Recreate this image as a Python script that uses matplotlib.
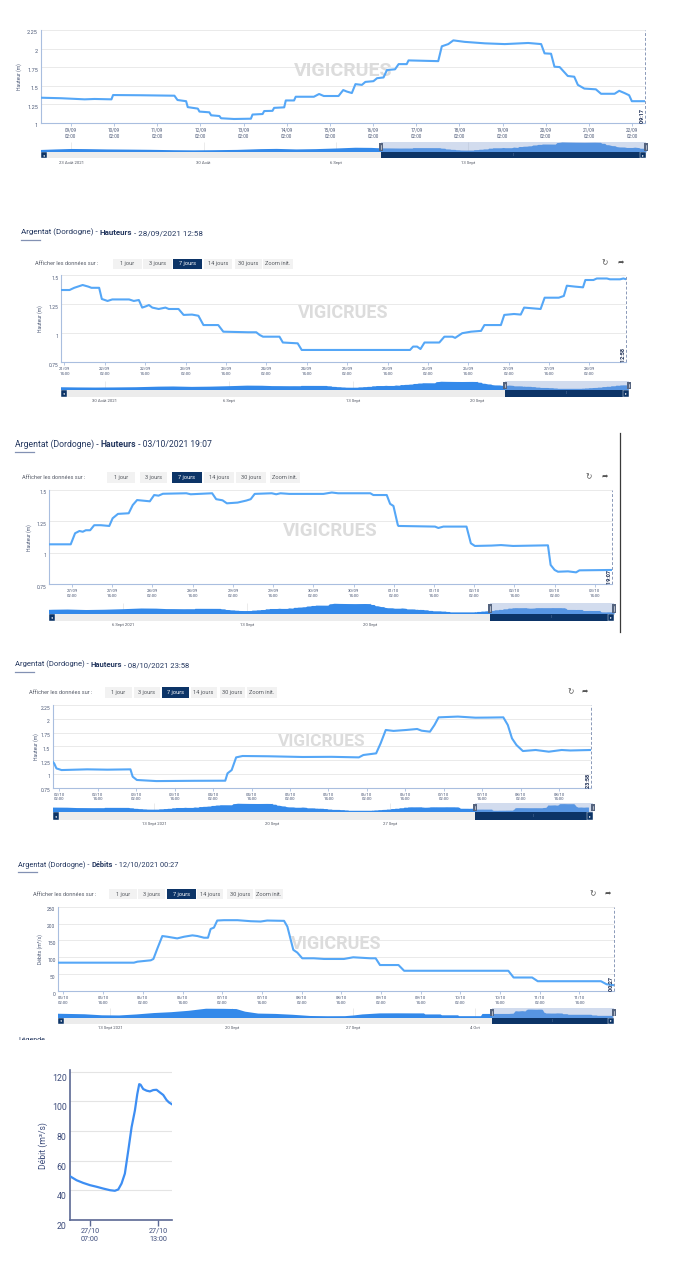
import numpy as np
import pandas as pd
import matplotlib
matplotlib.use('Agg')
import matplotlib.pyplot as plt
import matplotlib.dates as mdates
from matplotlib.patches import Rectangle
from matplotlib.transforms import ScaledTranslation

plt.rcParams['font.family'] = ['Roboto', 'DejaVu Sans']

# ---------------- data ----------------
station = 'Argentat (Dordogne)'
buttons = ['1 jour', '3 jours', '7 jours', '14 jours', '30 jours', 'Zoom init.']
selected_button = 2
range_label = 'Afficher les données sur :'

# hauteurs before panel 1 (hours from 09/09/2021 02:00), only seen in the navigators
hp_t = [-452, -430, -410, -390, -365, -340, -310, -280, -255, -230, -200, -170, -150,
        -125, -100, -75, -50, -30, -17]
hp_v = [1.12, 1.20, 1.26, 1.24, 1.20, 1.18, 1.15, 1.10, 1.08, 1.10, 1.14, 1.24, 1.27,
        1.20, 1.24, 1.32, 1.42, 1.40, 1.34]

# panel 1: hauteurs, 14 days ending 22/09/2021 09:17 (hours from 09/09 02:00)
h1_ref = '2021-09-09 02:00'
h1_end = '2021-09-22 09:17'
h1_t = [-16.8, -5.3, 7.7, 13.2, 22.6, 23.5, 39.1, 57.6, 59.3, 64.1, 65.0, 70.6, 71.5,
        77.0, 78.0, 82.6, 83.5, 90.7, 100.1, 101.0, 106.6, 107.5, 112.1, 113.0, 118.6,
        119.5, 124.1, 125.0, 135.1, 138.0, 140.6, 148.8, 151.4, 153.4, 156.2, 158.2,
        161.8, 163.7, 168.2, 170.2, 173.8, 175.7, 180.2, 182.2, 186.7, 187.7, 204.2,
        206.2, 209.8, 212.6, 218.9, 230.2, 241.2, 254.2, 261.4, 263.3, 266.9, 268.8,
        271.7, 276.2, 279.8, 281.8, 285.4, 291.8, 294.7, 302.2, 304.8, 307.7, 310.3,
        311.8, 318.7]
h1_v = [1.337, 1.33, 1.315, 1.32, 1.315, 1.373, 1.37, 1.364, 1.306, 1.29, 1.21, 1.19,
        1.15, 1.14, 1.10, 1.09, 1.06, 1.05, 1.054, 1.11, 1.117, 1.157, 1.16, 1.20, 1.207,
        1.30, 1.30, 1.35, 1.35, 1.387, 1.36, 1.36, 1.44, 1.42, 1.40, 1.52, 1.51, 1.55,
        1.56, 1.60, 1.61, 1.71, 1.72, 1.79, 1.79, 1.84, 1.83, 2.03, 2.06, 2.11, 2.09,
        2.07, 2.06, 2.075, 2.06, 1.935, 1.93, 1.755, 1.75, 1.63, 1.62, 1.51, 1.46, 1.45,
        1.39, 1.39, 1.43, 1.40, 1.37, 1.29, 1.29]

# panel 2: hauteurs, 7 days ending 28/09/2021 12:58 (hours from 21/09 14:00)
h2_ref = '2021-09-21 14:00'
h2_end = '2021-09-28 12:58'
h2_t = [-1.1, 1.5, 2.9, 5.4, 7.1, 8.0, 10.3, 11.1, 12.8, 14.2, 19.2, 20.6, 22.1, 23.1,
        24.1, 25.1, 26.1, 28.0, 30.0, 31.0, 33.9, 35.4, 37.9, 39.8, 41.3, 45.7, 47.2,
        54.6, 57.0, 58.0, 59.0, 63.9, 64.9, 69.3, 70.5, 102.7, 103.6, 104.8, 105.8,
        107.0, 111.4, 112.9, 115.3, 116.1, 118.2, 120.8, 123.8, 124.8, 129.7, 130.7,
        133.6, 135.6, 136.6, 141.5, 142.7, 146.9, 148.4, 149.3, 151.8, 154.1, 154.8,
        157.2, 158.2, 161.2, 162.1, 165.1, 166.1, 167.0]
h2_v = [1.371, 1.371, 1.39, 1.414, 1.40, 1.39, 1.39, 1.294, 1.277, 1.29, 1.29, 1.277,
        1.285, 1.22, 1.23, 1.242, 1.22, 1.208, 1.22, 1.208, 1.208, 1.157, 1.16, 1.15,
        1.07, 1.07, 1.013, 1.008, 1.008, 0.985, 0.97, 0.97, 0.92, 0.913, 0.856, 0.856,
        0.885, 0.885, 0.864, 0.92, 0.92, 0.97, 0.97, 0.96, 1.0, 1.013, 1.02, 1.07, 1.07,
        1.157, 1.165, 1.16, 1.22, 1.208, 1.305, 1.305, 1.32, 1.408, 1.40, 1.394, 1.457,
        1.457, 1.47, 1.47, 1.463, 1.463, 1.47, 1.463]

# panel 3: hauteurs, 7 days ending 03/10/2021 19:07 (hours from 27/09 02:00)
h3_ref = '2021-09-27 02:00'
h3_end = '2021-10-03 19:07'
h3_t = [-6.9, -0.4, 0.9, 2.2, 3.2, 4.1, 5.4, 6.6, 8.6, 11.1, 12.1, 13.7, 16.9, 18.1,
        19.4, 23.2, 24.5, 25.8, 27.1, 34.1, 35.4, 41.8, 43.0, 44.9, 46.2, 49.4, 52.0,
        53.3, 54.5, 59.6, 60.9, 62.2, 64.8, 75.0, 77.5, 79.4, 89.0, 89.9, 93.9, 94.9,
        95.9, 97.2, 97.4, 108.3, 109.3, 110.8, 117.7, 119.0, 120.2, 125.2, 128.0, 131.6,
        142.0, 142.8, 144.0, 145.0, 148.0, 150.4, 151.4, 161.1]
h3_v = [1.068, 1.068, 1.156, 1.174, 1.168, 1.18, 1.18, 1.22, 1.22, 1.214, 1.275, 1.31,
        1.315, 1.38, 1.42, 1.41, 1.46, 1.455, 1.47, 1.474, 1.466, 1.474, 1.427, 1.418,
        1.394, 1.40, 1.416, 1.427, 1.469, 1.474, 1.466, 1.474, 1.469, 1.469, 1.48, 1.474,
        1.474, 1.46, 1.46, 1.39, 1.373, 1.222, 1.214, 1.209, 1.198, 1.209, 1.209, 1.076,
        1.055, 1.058, 1.062, 1.055, 1.06, 0.904, 0.864, 0.85, 0.853, 0.845, 0.861, 0.864]

# panel 4: hauteurs, 7 days ending 08/10/2021 23:58 (hours from 02/10 02:00)
h4_ref = '2021-10-02 02:00'
h4_end = '2021-10-08 23:58'
h4_t = [-2.05, -1.6, -0.9, 0.7, 8.7, 15.0, 22.2, 22.9, 24.2, 30.3, 42.0, 51.8, 52.5,
        53.8, 55.2, 57.2, 65.3, 76.0, 85.0, 93.5, 94.9, 98.9, 100.3, 101.9, 104.3, 108.3,
        111.7, 113.1, 115.7, 117.1, 118.4, 124.4, 129.9, 134.0, 138.6, 140.0, 141.3,
        142.7, 144.7, 148.7, 152.8, 156.8, 159.5, 166.0]
h4_v = [1.22, 1.19, 1.10, 1.07, 1.083, 1.077, 1.083, 0.95, 0.89, 0.87, 0.875, 0.877,
        1.01, 1.07, 1.30, 1.325, 1.32, 1.307, 1.31, 1.30, 1.343, 1.373, 1.555, 1.797,
        1.78, 1.797, 1.815, 1.784, 1.766, 1.887, 2.026, 2.04, 2.02, 2.022, 2.026, 1.887,
        1.645, 1.524, 1.415, 1.434, 1.403, 1.434, 1.425, 1.434]

# débits before panel 5 (hours from 05/10/2021 02:00), only seen in the navigator
dp_t = [-603, -566, -542, -518, -494, -470, -446, -422, -398, -374, -356, -344, -326,
        -302, -278, -254, -230, -206, -194, -182, -158, -134, -110, -97, -95, -74, -72,
        -50, -48, -18, -16]
dp_v = [90, 75, 45, 40, 70, 110, 135, 175, 235, 232, 225, 150, 95, 85, 60, 25, 18, 20,
        40, 70, 100, 102, 100, 100, 70, 70, 45, 45, 20, 20, 84]

# panel 5: débits, 7 days ending 12/10/2021 00:27 (hours from 05/10 02:00)
d5_ref = '2021-10-05 02:00'
d5_end = '2021-10-12 00:27'
d5_t = [-1.6, 12.3, 21.3, 22.4, 24.4, 26.4, 27.2, 28.4, 29.9, 31.4, 34.4, 36.5, 39.0,
        40.5, 42.5, 43.7, 44.5, 45.5, 46.5, 48.5, 52.6, 56.6, 59.6, 61.6, 66.7, 67.7,
        69.5, 70.7, 72.2, 75.7, 78.8, 84.8, 87.6, 92.8, 94.4, 95.7, 101.3, 103.0, 134.5,
        136.1, 141.7, 143.4, 162.5, 164.2, 166.5]
d5_v = [84, 84, 84, 87, 89, 91, 95, 126, 163, 161, 156, 161, 165, 163, 158, 158, 184,
        188, 209, 210, 210, 207, 206, 209, 208, 191, 122, 114, 97, 97, 95, 95, 100, 97,
        97, 77, 77, 60, 60, 40, 40, 29, 29, 20, 17]

# panel 6: débit on 27/10 (hours from 27/10/2021 00:00)
d6_ref = '2021-10-27 00:00'
d6_start = '2021-10-27 05:15'
d6_end = '2021-10-27 14:11'
d6_t = [5.25, 5.83, 6.41, 7.0, 7.59, 8.17, 8.76, 9.19, 9.49, 9.78, 10.07, 10.37, 10.66,
        10.95, 11.16, 11.33, 11.45, 11.68, 11.98, 12.27, 12.56, 12.85, 13.15, 13.44,
        13.73, 13.94, 14.17]
d6_v = [49.5, 46.8, 45.0, 43.5, 42.4, 41.2, 40.1, 39.7, 40.6, 44.6, 51.3, 66.9, 82.6,
        93.8, 104.9, 111.6, 111.2, 108.3, 107.2, 106.7, 107.6, 107.8, 106.0, 104.3,
        100.9, 99.3, 98.2]

nav1_dates = ['2021-08-23', '2021-08-30', '2021-09-06', '2021-09-13']
nav1_labels = ['23 Août 2021', '30 Août', '6 Sept', '13 Sept']
nav2_dates = ['2021-08-30', '2021-09-06', '2021-09-13', '2021-09-20']
nav2_labels = ['30 Août 2021', '6 Sept', '13 Sept', '20 Sept']
nav3_dates = ['2021-09-06', '2021-09-13', '2021-09-20']
nav3_labels = ['6 Sept 2021', '13 Sept', '20 Sept']
nav4_dates = ['2021-09-13', '2021-09-20', '2021-09-27']
nav4_labels = ['13 Sept 2021', '20 Sept', '27 Sept']
nav5_dates = ['2021-09-13', '2021-09-20', '2021-09-27', '2021-10-04']
nav5_labels = ['13 Sept 2021', '20 Sept', '27 Sept', '4 Oct']

# ---------------- drawing ----------------
LINE = '#55a7f7'
NAV_FILL = '#3389ea'
NAVY = '#0c3467'
AXIS = '#a9bedf'
GRID = '#e6e6e6'
TXT = '#4b5876'
TITLE = '#24375f'

W, H = 678, 1264
fig = plt.figure(figsize=(W / 100, H / 100), dpi=100)
bg = fig.add_axes([0, 0, 1, 1])
bg.set_xlim(0, W)
bg.set_ylim(H, 0)
bg.axis('off')


def box(x0, y0, x1, y1):
    return [x0 / W, 1 - y1 / H, (x1 - x0) / W, (y1 - y0) / H]


def to_num(ref, hours):
    stamps = pd.Timestamp(ref) + pd.to_timedelta(np.asarray(hours, float), unit='h')
    return mdates.date2num(stamps.to_numpy())


def shift_ylabels(ax, dy):
    off = ScaledTranslation(0, -dy / 100, fig.dpi_scale_trans)
    for lab in ax.get_yticklabels():
        lab.set_transform(lab.get_transform() + off)


def chart(rect, t, v, start, end, ylim, yticks, ylabel, ylabel_x, hours, wm,
          fs_y=3.6, fs_x=3.1):
    x0, y0, x1, y1 = rect
    ax = fig.add_axes(box(*rect))
    ax.plot(t, v, color=LINE, lw=1.5, zorder=3, solid_joinstyle='round')
    ax.set_xlim(start, end)
    ax.set_ylim(*ylim)
    ax.set_yticks(yticks)
    ax.set_yticklabels([f'{y:g}' for y in yticks])
    ax.xaxis.set_major_locator(mdates.HourLocator(byhour=hours))
    ax.xaxis.set_major_formatter(mdates.DateFormatter('%d/%m\n%H:%M'))
    ax.grid(axis='y', color=GRID, lw=0.6)
    ax.set_axisbelow(True)
    for s in ['top', 'right']:
        ax.spines[s].set_visible(False)
    for s in ['left', 'bottom']:
        ax.spines[s].set_color(AXIS)
        ax.spines[s].set_linewidth(0.8)
    ax.tick_params(axis='x', length=2.5, width=0.6, color=AXIS, labelsize=fs_x,
                   labelcolor=TXT, pad=1.2)
    ax.tick_params(axis='y', length=0, labelsize=fs_y, labelcolor=TXT, pad=2)
    ax.set_ylabel(ylabel, fontsize=3.6, color=TXT)
    ax.yaxis.set_label_coords((ylabel_x - x0) / (x1 - x0), 0.5)
    ax.axvline(end, color='#8a99b8', lw=0.7, ls=(0, (3, 2)), clip_on=False)
    ax.text(end, ylim[0], mdates.num2date(end).strftime('%H:%M') + ' ', rotation=90,
            ha='right', va='bottom', fontsize=4, color='#1e2f55', fontweight='bold')
    ax.text(0.5, 0.56, 'VIGICRUES', transform=ax.transAxes, ha='center', va='center',
            fontsize=wm, color='#dcdcdc', fontweight='bold', zorder=1)
    shift_ylabels(ax, 2.5)
    return ax


def navigator(x0, x1, ya, yb, yc, ht, hv, start, end, dates, labels):
    lo_x = end - 32
    ax = fig.add_axes(box(x0, ya, x1, yb))
    m = (ht >= lo_x - 2) & (ht <= end)
    tt, vv = ht[m], hv[m]
    vis = vv[tt >= lo_x]
    span = vis.max() - vis.min()
    bottom = vis.min() - 0.236 * span
    ax.fill_between(tt, vv, bottom, color=NAV_FILL, lw=0, zorder=2)
    ax.set_xlim(lo_x, end)
    ax.set_ylim(bottom, vis.max() + 0.03 * span)
    lab_nums = mdates.datestr2num(dates)
    ax.vlines(lab_nums, 0, 1, transform=ax.get_xaxis_transform(), color='#e3e3e3',
              lw=0.5, zorder=1)
    ax.axvspan(start, end, color='#8fa8d6', alpha=0.4, lw=0, zorder=3)
    dpp = (end - lo_x) / (x1 - x0)
    for s in (start, end):
        ax.add_patch(Rectangle((s - 2 * dpp, 0.12), 4 * dpp, 0.76,
                               transform=ax.get_xaxis_transform(), fc='#55647f',
                               ec='none', zorder=4, clip_on=False))
        ax.plot([s, s], [0.3, 0.7], transform=ax.get_xaxis_transform(), color='white',
                lw=0.4, zorder=5, clip_on=False)
    ax.axis('off')

    sb = fig.add_axes(box(x0, yb, x1, yc))
    sb.set_xlim(lo_x, end)
    sb.set_facecolor('#ececec')
    sb.axvspan(start, end, color=NAVY, lw=0)
    bw = 6 / (x1 - x0)
    for xb, arrow in ((0, '◂'), (1 - bw, '▸')):
        sb.add_patch(Rectangle((xb, 0), bw, 1, transform=sb.transAxes, fc=NAVY,
                               ec='white', lw=0.3))
        sb.text(xb + bw / 2, 0.5, arrow, transform=sb.transAxes, ha='center',
                va='center', fontsize=2.6, color='white', family='DejaVu Sans')
    sb.text((start + end) / 2, 0.5, '|||', transform=sb.get_xaxis_transform(),
            ha='center', va='center', fontsize=2, color='#8da3c6')
    sb.set_xticks(lab_nums)
    sb.set_xticklabels(labels)
    sb.set_yticks([])
    sb.tick_params(axis='x', length=0, labelsize=3.1, labelcolor='#555a66', pad=1.6)
    for s in sb.spines.values():
        s.set_visible(False)


def header(y_title, x_title, width, kind, stamp, y_btn, h_btn, x_label, btn_x, icon_x):
    fs = 5.8 * width / 196
    t = bg.text(x_title, y_title + 2.4, station + ' - ', fontsize=fs, color=TITLE,
                va='baseline')
    t = bg.annotate(kind, xy=(1, 0), xycoords=t, fontsize=fs, color=TITLE,
                    fontweight='bold', va='bottom')
    bg.annotate(' - ' + stamp, xy=(1, 0), xycoords=t, fontsize=fs, color=TITLE,
                va='bottom')
    bg.plot([x_title, x_title + 19], [y_title + 8, y_title + 8], color='#8391b3', lw=0.9)
    bg.text(x_label, y_btn, range_label, fontsize=4.1, color='#5a5f6b', va='center')
    for i, (name, (bx0, bx1)) in enumerate(zip(buttons, btn_x)):
        sel = i == selected_button
        bg.add_patch(Rectangle((bx0, y_btn - h_btn / 2), bx1 - bx0, h_btn,
                               fc=NAVY if sel else '#f2f2f2', ec='none'))
        bg.text((bx0 + bx1) / 2, y_btn, name, fontsize=4.1, ha='center', va='center',
                color='white' if sel else '#55595f')
    bg.text(icon_x[0], y_btn - 1, '↻', fontsize=5.5, ha='center', va='center',
            color='#555', family='DejaVu Sans')
    bg.text(icon_x[1], y_btn - 1, '➦', fontsize=5.5, ha='center', va='center',
            color='#555', family='DejaVu Sans')


# time axes
t1 = to_num(h1_ref, h1_t)
t2 = to_num(h2_ref, h2_t)
t3 = to_num(h3_ref, h3_t)
t4 = to_num(h4_ref, h4_t)
t5 = to_num(d5_ref, d5_t)
t6 = to_num(d6_ref, d6_t)
e1, e2, e3, e4, e5 = (mdates.datestr2num(s) for s in (h1_end, h2_end, h3_end, h4_end, d5_end))

hist_t = np.concatenate([to_num(h1_ref, hp_t), t1, t2[t2 > t1[-1]], t3[t3 > t2[-1]],
                         t4[t4 > t3[-1]]])
hist_v = np.concatenate([hp_v, h1_v, np.array(h2_v)[t2 > t1[-1]],
                         np.array(h3_v)[t3 > t2[-1]], np.array(h4_v)[t4 > t3[-1]]])
dist_t = np.concatenate([to_num(d5_ref, dp_t), t5])
dist_v = np.concatenate([dp_v, d5_v])

# panel 1
chart((40.7, 30, 645.3, 122.7), t1, h1_v, e1 - 14, e1, (1, 2.25),
      [1, 1.25, 1.5, 1.75, 2, 2.25], 'Hauteur (m)', 22, [2], 14, fs_y=4, fs_x=3.3)
navigator(40.7, 646, 141.7, 152, 158.3, hist_t, hist_v, e1 - 14, e1, nav1_dates, nav1_labels)

# panel 2
header(232.3, 20.7, 196, 'Hauteurs', '28/09/2021 12:58', 263.5, 10, 35,
       [(113, 142), (143, 172), (173, 202), (204, 232), (235, 262), (263, 293)],
       (604.7, 620.7))
chart((61, 275, 626.3, 362.3), t2, h2_v, e2 - 7, e2, (0.75, 1.5),
      [0.75, 1, 1.25, 1.5], 'Hauteur (m)', 43.3, [2, 14], 13)
navigator(61, 629, 381, 390, 396.7, hist_t, hist_v, e2 - 7, e2, nav2_dates, nav2_labels)

# panel 3
header(444, 15, 210, 'Hauteurs', '03/10/2021 19:07', 477.3, 11, 21.5,
       [(107, 135), (139.5, 167), (171.7, 201.7), (204, 234), (236, 266), (269.5, 300)],
       (588.7, 604.7))
chart((49, 490, 612, 584.3), t3, h3_v, e3 - 7, e3, (0.75, 1.5),
      [0.75, 1, 1.25, 1.5], 'Hauteur (m)', 32, [2, 14], 13.5)
navigator(49, 614, 603, 614, 620.7, hist_t, hist_v, e3 - 7, e3, nav3_dates, nav3_labels)
bg.plot([619.5, 619.5], [433, 632], color='#3a3a3a', lw=0.9)

# panel 4
header(664, 15, 186, 'Hauteurs', '08/10/2021 23:58', 692.7, 10.5, 29,
       [(105, 132), (134, 160), (161.5, 189), (190.5, 216.5), (220, 244.6), (246.8, 277)],
       (571, 585))
chart((52.8, 705, 591, 787.7), t4, h4_v, e4 - 7, e4, (0.75, 2.25),
      [0.75, 1, 1.25, 1.5, 1.75, 2, 2.25], 'Hauteur (m)', 39, [2, 14], 12.5)
navigator(52.8, 593, 803, 812, 820, hist_t, hist_v, e4 - 7, e4, nav4_dates, nav4_labels)

# panel 5
header(864.3, 18.3, 181, 'Débits', '12/10/2021 00:27', 894.3, 10, 32.7,
       [(109, 137), (138, 165), (167, 196), (197, 223), (227, 253), (255, 283)],
       (592.5, 607.6))
chart((58.3, 906.7, 614, 991), t5, d5_v, e5 - 7, e5, (0, 250),
      [0, 50, 100, 150, 200, 250], 'Débits (m³/s)', 42.7, [2, 14], 13)
navigator(58.3, 614, 1008, 1017.5, 1023.5, dist_t, dist_v, e5 - 7, e5, nav5_dates, nav5_labels)

# the screenshot cuts the next heading in half
leg = bg.text(18, 1036.5, 'Légende', fontsize=5, color=TITLE, va='top')
leg.set_clip_on(True)
leg.set_clip_path(Rectangle((0, 1030), 200, 9.5, transform=bg.transData))

# panel 6
ax6 = fig.add_axes(box(70, 1070.2, 171.7, 1220))
ax6.plot(t6, d6_v, color='#3d8ef3', lw=1.6, zorder=3, solid_joinstyle='round')
ax6.set_xlim(mdates.datestr2num(d6_start), mdates.datestr2num(d6_end))
ax6.set_ylim(20, 121)
ax6.set_yticks([20, 40, 60, 80, 100, 120])
ax6.xaxis.set_major_locator(mdates.HourLocator(byhour=[7, 13]))
ax6.xaxis.set_major_formatter(mdates.DateFormatter('%d/%m\n%H:%M'))
ax6.grid(axis='y', color='#e4e4e4', lw=0.8)
ax6.set_axisbelow(True)
for s in ['top', 'right']:
    ax6.spines[s].set_visible(False)
for s in ['left', 'bottom']:
    ax6.spines[s].set_color('#5b6894')
    ax6.spines[s].set_linewidth(1.2)
ax6.tick_params(axis='x', length=4, width=1, color='#5b6894', labelsize=5.2,
                labelcolor='#3e4d7c', pad=1.5)
ax6.tick_params(axis='y', length=0, labelsize=6.3, labelcolor='#3e4d7c', pad=2.5)
ax6.set_ylabel('Débit (m³/s)', fontsize=6.2, color='#3e4d7c')
ax6.yaxis.set_label_coords((48.3 - 70) / 101.7, 0.5)
shift_ylabels(ax6, 5.5)

fig.savefig('out.png', dpi=100)
